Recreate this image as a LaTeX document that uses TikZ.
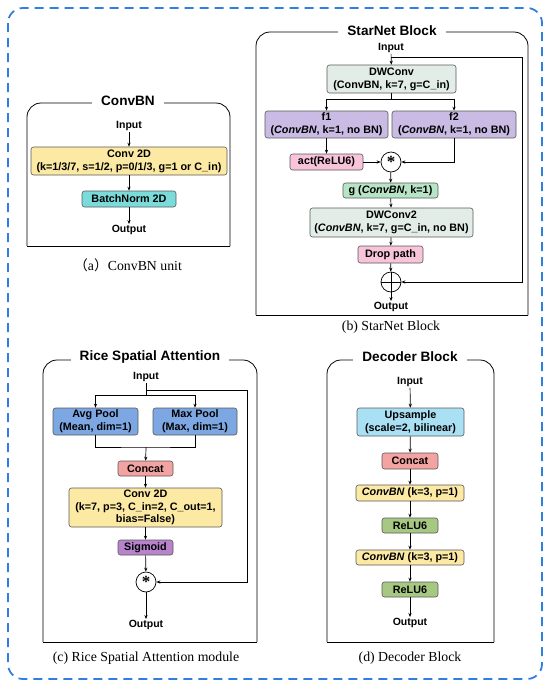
\documentclass[tikz,border=0pt]{standalone}
\usepackage{fontspec}
\setmainfont{Liberation Serif}
\setsansfont{Liberation Sans}
\newfontfamily\cjk{Noto Sans CJK SC}
\usepackage{xcolor}
\usepackage{tikz}
\usetikzlibrary{arrows.meta,positioning}

\definecolor{frameblue}{HTML}{2F7FE0}
\definecolor{convyellow}{HTML}{FCE9A4}
\definecolor{bncyan}{HTML}{7ADCDA}
\definecolor{dwgray}{HTML}{E2EDE8}
\definecolor{flilac}{HTML}{C9BBE4}
\definecolor{actpink}{HTML}{F7C4DA}
\definecolor{ggreen}{HTML}{B8E4C6}
\definecolor{poolblue}{HTML}{7DA7E2}
\definecolor{catsalmon}{HTML}{F3A3A1}
\definecolor{sigpurple}{HTML}{B784CC}
\definecolor{upblue}{HTML}{A9E0F3}
\definecolor{reluolive}{HTML}{A7C882}

% frame with rounded top corners only
\newcommand{\blockframe}[4]{%
  \draw[line width=0.8pt, rounded corners=14pt] (#1,#4) -- (#1,#2) -- (#3,#2) -- (#3,#4);
  \draw[line width=0.8pt, line cap=rect] (#1,#4) -- (#3,#4);}
\newcommand{\starsym}{\raisebox{-1.1ex}[0pt][0pt]{\fontsize{17}{17}\selectfont\bfseries *}}

\begin{document}
\begin{tikzpicture}[
  x=1pt, y=-1pt,
  blk/.style={draw=black!65, rounded corners=2.5pt, line width=0.6pt, align=center, inner sep=0pt,
    font=\sffamily\bfseries\fontsize{10.8}{12.8}\selectfont},
  lbl/.style={font=\sffamily\bfseries\fontsize{10.5}{12}\selectfont, inner sep=1pt},
  ttl/.style={fill=white, font=\sffamily\bfseries\fontsize{13.6}{15}\selectfont, inner xsep=9pt, inner ysep=1pt},
  captxt/.style={font=\rmfamily\fontsize{13.8}{15}\selectfont},
  op/.style={draw, circle, minimum size=20pt, inner sep=0pt, line width=0.7pt},
  arr/.style={-{Stealth[length=4pt,width=3.2pt]}, line width=0.7pt},
  ln/.style={line width=0.7pt}
]
\useasboundingbox (0,0) rectangle (550,689);
\draw[frameblue, line width=1.8pt, rounded corners=15pt, dash pattern=on 9pt off 6pt] (8,8) rectangle (542,679);

% (a) ConvBN
\blockframe{27}{103}{230}{246}
\node[ttl] (ta) at (128,101) {ConvBN};
\node[lbl] (ina) at (129,126) {Input};
\node[blk, fill=convyellow, minimum width=196pt, minimum height=28pt] (conva) at (129,161)
  {Conv 2D\\(k=1/3/7, s=1/2, p=0/1/3, g=1 or C\_in)};
\node[blk, fill=bncyan, minimum width=94pt, minimum height=16pt] (bna) at (129,199) {BatchNorm 2D};
\node[lbl] (outa) at (129,230) {Output};
\draw[arr] (ina) -- (conva);
\draw[arr] (conva) -- (bna);
\draw[arr] (bna) -- (outa);
\node[captxt] (capa) at (128,265) {{\cjk （}a{\cjk ）}ConvBN unit};

% (b) StarNet Block
\blockframe{256}{32}{528}{315}
\node[ttl] (tb) at (392,31) {StarNet Block};
\node[lbl] (inb) at (391,48) {Input};
\node[blk, fill=dwgray, minimum width=129pt, minimum height=28pt] (dw) at (391.5,79)
  {DWConv\\(ConvBN, k=7, g=C\_in)};
\node[blk, fill=flilac, minimum width=123pt, minimum height=27pt] (f1) at (326.5,124.5)
  {f1\\(\textit{ConvBN}, k=1, no BN)};
\node[blk, fill=flilac, minimum width=124pt, minimum height=27pt] (f2) at (454,124.5)
  {f2\\(\textit{ConvBN}, k=1, no BN)};
\node[blk, fill=actpink, minimum width=73pt, minimum height=16pt] (act) at (326.5,162) {act(ReLU6)};
\node[op] (mulb) at (391,162) {\starsym};
\node[blk, fill=ggreen, minimum width=95pt, minimum height=15pt] (g) at (390.5,190.5) {g (\textit{ConvBN}, k=1)};
\node[blk, fill=dwgray, minimum width=163pt, minimum height=29pt] (dw2) at (391.5,222.5)
  {DWConv2\\(\textit{ConvBN}, k=7, g=C\_in, no BN)};
\node[blk, fill=actpink, minimum width=65pt, minimum height=17pt] (drop) at (390.5,254.5) {Drop path};
\node[op] (addb) at (391,282) {};
\draw[ln] (addb.north) -- (addb.south) (addb.west) -- (addb.east);
\node[lbl] (outb) at (391,307) {Output};
\coordinate (bsplit) at (391,57);
\coordinate (bloop) at (522,57);
\draw[arr] (inb) -- (dw);
\draw[arr] (bsplit) -- (bloop) |- (addb.east);
\draw[ln] (dw.south) -- ++(0,6) coordinate (bfork);
\draw[arr] (bfork) -| (f1.north);
\draw[arr] (bfork) -| (f2.north);
\draw[arr] (f1) -- (act);
\draw[arr] (act) -- (mulb);
\draw[arr] (f2.south) |- (mulb.east);
\draw[arr] (mulb) -- (g);
\draw[arr] (g) -- (dw2);
\draw[arr] (dw2) -- (drop);
\draw[arr] (drop) -- (addb);
\draw[arr] (addb) -- (outb);
\node[captxt] (capb) at (391,327) {(b) StarNet Block};

% (c) Rice Spatial Attention
\blockframe{43}{360}{257}{642}
\node[ttl] (tc) at (150,357) {Rice Spatial Attention};
\node[lbl] (inc) at (146,377) {Input};
\node[blk, fill=poolblue, minimum width=85pt, minimum height=27pt] (avg) at (95.5,421.5)
  {Avg Pool\\(Mean, dim=1)};
\node[blk, fill=poolblue, minimum width=84pt, minimum height=27pt] (max) at (195,421.5)
  {Max Pool\\(Max, dim=1)};
\node[blk, fill=catsalmon, minimum width=55pt, minimum height=15pt] (catc) at (145.5,468.5) {Concat};
\node[blk, fill=convyellow, minimum width=153pt, minimum height=39pt] (convc) at (145.5,507.5)
  {Conv 2D\\(k=7, p=3, C\_in=2, C\_out=1,\\bias=False)};
\node[blk, fill=sigpurple, minimum width=55pt, minimum height=15pt] (sig) at (145.5,547.5) {Sigmoid};
\node[op] (mulc) at (146,582) {\starsym};
\node[lbl] (outc) at (146,625) {Output};
\coordinate (cloop) at (247,390);
\draw[ln] (inc.south) -- (146,395) coordinate (cfork);
\draw[arr] (146,390) -- (cloop) |- (mulc.east);
\draw[arr] (cfork) -| (avg.north);
\draw[arr] (cfork) -| (max.north);
\draw[ln] (avg.south) |- (146,447) coordinate (cjoin) -| (max.south);
\draw[arr] (cjoin) -- (catc);
\draw[arr] (catc) -- (convc);
\draw[arr] (convc) -- (sig);
\draw[arr] (sig) -- (mulc);
\draw[arr] (mulc) -- (outc);
\node[captxt] (capc) at (146,658) {(c) Rice Spatial Attention module};

% (d) Decoder Block
\blockframe{327}{360}{494}{642}
\node[ttl] (td) at (410,357) {Decoder Block};
\node[lbl] (ind) at (410,382) {Input};
\node[blk, fill=upblue, minimum width=107pt, minimum height=28pt] (up) at (410.5,422)
  {Upsample\\(scale=2, bilinear)};
\node[blk, fill=catsalmon, minimum width=56pt, minimum height=16pt] (catd) at (410,461) {Concat};
\node[blk, fill=convyellow, minimum width=108pt, minimum height=16pt] (cbn1) at (410,493) {\textit{ConvBN} (k=3, p=1)};
\node[blk, fill=reluolive, minimum width=56pt, minimum height=15pt] (relu1) at (410,525.5) {ReLU6};
\node[blk, fill=convyellow, minimum width=108pt, minimum height=15pt] (cbn2) at (410,557.5) {\textit{ConvBN} (k=3, p=1)};
\node[blk, fill=reluolive, minimum width=56pt, minimum height=15pt] (relu2) at (410,589.5) {ReLU6};
\node[lbl] (outd) at (410,623) {Output};
\draw[arr] (ind) -- (up);
\draw[arr] (up) -- (catd);
\draw[arr] (catd) -- (cbn1);
\draw[arr] (cbn1) -- (relu1);
\draw[arr] (relu1) -- (cbn2);
\draw[arr] (cbn2) -- (relu2);
\draw[arr] (relu2) -- (outd);
\node[captxt] (capd) at (410,658) {(d) Decoder Block};
\end{tikzpicture}
\end{document}
